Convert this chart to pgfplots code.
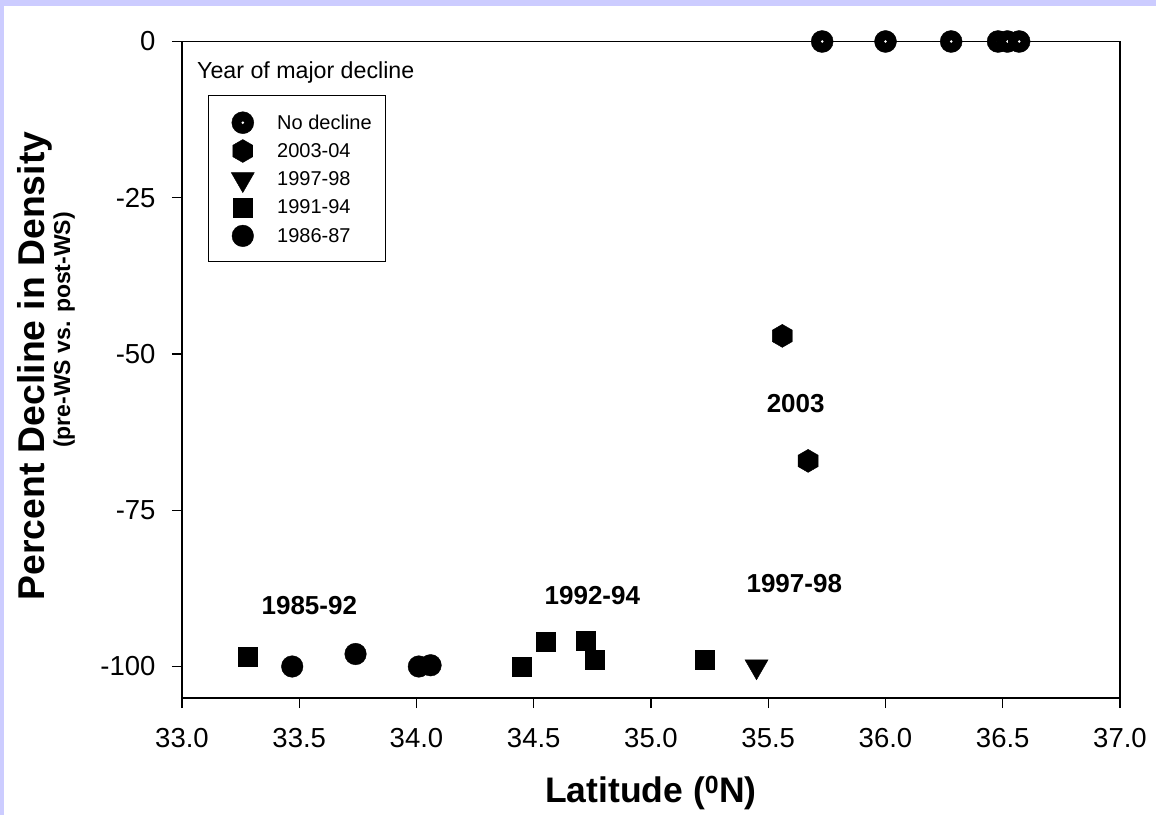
\documentclass[border=0pt]{standalone}
\usepackage{pgfplots}
\pgfplotsset{compat=1.18}
\usepackage{fontspec}
\setmainfont{Liberation Sans}
\definecolor{lav}{RGB}{204,204,255}

\pgfdeclareplotmark{dotcircle}{%
  \pgfpathcircle{\pgfpointorigin}{\pgfplotmarksize}%
  \pgfusepathqfillstroke
  \begin{pgfscope}%
  \pgfsetfillcolor{white}%
  \pgfpathcircle{\pgfpointorigin}{1.4pt}%
  \pgfusepathqfill
  \end{pgfscope}%
}
\pgfdeclareplotmark{hexa}{%
  \pgfpathmoveto{\pgfpointpolar{90}{\pgfplotmarksize}}%
  \pgfpathlineto{\pgfpointpolar{150}{\pgfplotmarksize}}%
  \pgfpathlineto{\pgfpointpolar{210}{\pgfplotmarksize}}%
  \pgfpathlineto{\pgfpointpolar{270}{\pgfplotmarksize}}%
  \pgfpathlineto{\pgfpointpolar{330}{\pgfplotmarksize}}%
  \pgfpathlineto{\pgfpointpolar{30}{\pgfplotmarksize}}%
  \pgfpathclose
  \pgfusepathqfillstroke
}

\pgfplotsset{
  legimg/.style={legend image code/.code={%
    \path[draw=none,fill=none] (-21.3pt,-13.4pt) rectangle (17pt,14.9pt);
    \draw[##1] plot coordinates {(0pt,0pt)};}},
}

\begin{document}
\begin{tikzpicture}
\fill[lav] (0,0) rectangle (1156pt,815pt);
\fill[white] (4pt,0) rectangle (1156pt,809pt);
\begin{axis}[
  at={(182pt,117pt)}, anchor=south west,
  scale only axis, width=938pt, height=656.5pt,
  xmin=33, xmax=37, ymin=-105.04, ymax=0,
  axis line style={line width=1.5pt},
  xtick={33,33.5,34,34.5,35,35.5,36,36.5,37},
  xticklabels={33.0,33.5,34.0,34.5,35.0,35.5,36.0,36.5,37.0},
  ytick={-100,-75,-50,-25,0},
  yticklabels={-100,-75,-50,-25,0},
  tick align=outside, xtick pos=left, ytick pos=left,
  major tick length=10pt,
  tick style={line width=1.3pt, black},
  ticklabel style={font=\fontsize{27.5}{30}\selectfont, inner sep=0pt},
  xticklabel style={anchor=north, yshift=-20.5pt},
  yticklabel style={anchor=east, xshift=-16.3pt},
  clip=false,
  legend style={
    at={(axis description cs:0.0274,0.9185)}, anchor=north west,
    draw=black, line width=1pt, fill=white,
    inner xsep=13.3pt, inner ysep=12.3pt,
    font=\fontsize{20}{24}\selectfont,
    row sep=0pt, column sep=17.4pt,
    nodes={inner sep=0pt},
  },
  legend cell align=left,
]
\addplot[only marks, mark=dotcircle, mark size=11pt, mark options={line width=0.4pt, fill=black, draw=black}, legimg]
  coordinates {(35.73,0) (36.00,0) (36.28,0) (36.48,0) (36.52,0) (36.57,0)};
\addlegendentry{No decline}
\addplot[only marks, mark=hexa, mark size=11.5pt, mark options={line width=0.4pt, fill=black, draw=black}, legimg]
  coordinates {(35.56,-47.1) (35.67,-67.1)};
\addlegendentry{2003-04}
\addplot[only marks, mark=triangle*, mark size=13.3pt, mark options={rotate=180, line width=0.4pt, fill=black, draw=black}, legimg]
  coordinates {(35.45,-100)};
\addlegendentry{1997-98}
\addplot[only marks, mark=square*, mark size=9.5pt, mark options={line width=0.4pt, fill=black, draw=black}, legimg]
  coordinates {(33.28,-98.5) (34.45,-100) (34.55,-96.0) (34.72,-95.8) (34.76,-98.9) (35.23,-98.9)};
\addlegendentry{1991-94}
\addplot[only marks, mark=*, mark size=10.8pt, mark options={line width=0.4pt, fill=black, draw=black}, legimg]
  coordinates {(33.47,-100) (33.74,-98.0) (34.01,-100) (34.06,-99.8)};
\addlegendentry{1986-87}

\node[font=\bfseries\fontsize{26}{30}\selectfont, inner sep=0pt] at (axis cs:33.543,-90.2) {1985-92};
\node[font=\bfseries\fontsize{26}{30}\selectfont, inner sep=0pt] at (axis cs:34.75,-88.6) {1992-94};
\node[font=\bfseries\fontsize{26}{30}\selectfont, inner sep=0pt] at (axis cs:35.611,-86.8) {1997-98};
\node[font=\bfseries\fontsize{26}{30}\selectfont, inner sep=0pt] at (axis cs:35.617,-57.9) {2003};
\end{axis}
\node[anchor=base west, inner sep=0pt, font=\fontsize{23.2}{28}\selectfont] at (197pt,736.7pt) {Year of major decline};
\node[anchor=base, inner sep=0pt, font=\bfseries\fontsize{35.5}{40}\selectfont] at (651pt,12.3pt) {Latitude (\textsuperscript{0}N)};
\node[rotate=90, anchor=base, inner sep=0pt, font=\bfseries\fontsize{37.3}{40}\selectfont] at (44pt,449pt) {Percent Decline in Density};
\node[rotate=90, anchor=base, inner sep=0pt, font=\bfseries\fontsize{23}{26}\selectfont] at (70pt,485pt) {(pre-WS vs. post-WS)};
\pgfresetboundingbox
\useasboundingbox (0,0) rectangle (1156pt,815pt);
\end{tikzpicture}
\end{document}
